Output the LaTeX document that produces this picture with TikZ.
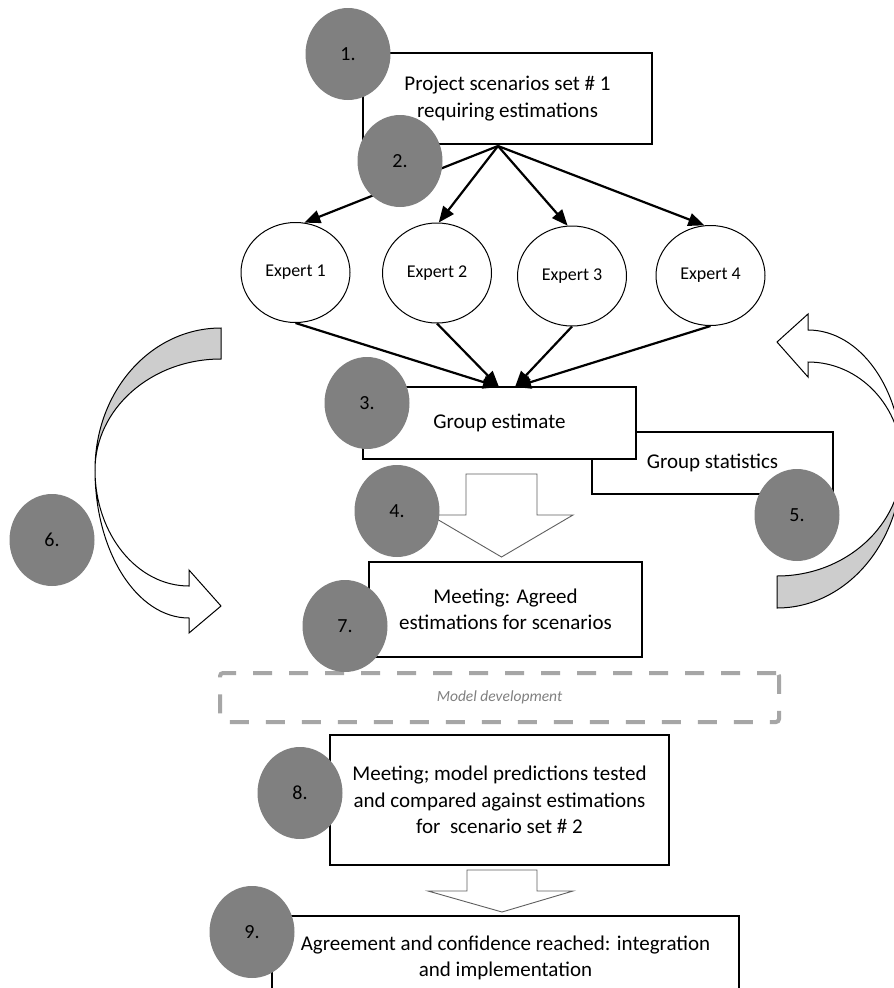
\documentclass[tikz,border=0pt]{standalone}
\usepackage{fontspec}
\setmainfont{Carlito}
\usetikzlibrary{shapes.geometric,arrows.meta}
\definecolor{numgray}{RGB}{128,128,128}
\definecolor{bandgray}{RGB}{205,205,205}
\definecolor{dashgray}{RGB}{166,166,166}
\definecolor{arrowline}{RGB}{95,95,95}
\tikzset{
 stepbox/.style={draw=black, line width=1.3pt, fill=white, rectangle, inner sep=0pt, align=center, font=\fontsize{21}{26.5}\selectfont},
 expert/.style={draw=black, line width=1pt, fill=white, ellipse, inner sep=0pt, minimum width=109pt, minimum height=100pt, font=\fontsize{18}{22}\selectfont},
 numdot/.style={fill=numgray, ellipse, minimum width=85pt, minimum height=92pt, inner sep=0pt, font=\fontsize{20}{24}\selectfont},
 conn/.style={line width=2.2pt, -{Triangle[length=16pt,width=13pt]}},
 blockarrow/.style={draw=arrowline, line width=0.9pt, fill=white},
 curvebody/.style={draw=black, line width=1pt, line join=miter},
}
\begin{document}
\begin{tikzpicture}[x=1pt,y=-1pt]
\useasboundingbox (0,0) rectangle (894,988);
\fill[white] (0,0) rectangle (894,988);
\clip (0,0) rectangle (894,988);

% curved arrows (6 and 5)
\filldraw[curvebody, fill=bandgray] (221,328) .. controls (151,328) and (95,391) .. (95,470) .. controls (95,409) and (151,359) .. (221,359) -- cycle;
\filldraw[curvebody, fill=white] (95,470) .. controls (95,552) and (137,618) .. (189,618) -- (189,633) -- (221,606) -- (189,570) -- (189,586) .. controls (137,586) and (95,534) .. (95,470) -- cycle;

\filldraw[curvebody, fill=bandgray] (902,462) .. controls (902,543) and (846,608) .. (777,608) -- (777,576) .. controls (846,576) and (902,525) .. (902,462) -- cycle;
\filldraw[curvebody, fill=white] (902,462) .. controls (902,389) and (860,330) .. (808,330) -- (808,314) -- (777,342) -- (808,377) -- (808,362) .. controls (860,362) and (902,407) .. (902,462) -- cycle;

% boxes
\node[stepbox, minimum width=289pt, minimum height=91pt] (b1) at (507.5,98.5) {\raisebox{-1.5pt}{\parbox{289pt}{\centering Project scenarios set \# 1\\requiring estimations}}};
\coordinate (fan) at (498,146);

\node[expert] (e1) at (295.5,272.5) {Expert 1};
\node[expert] (e2) at (437,273) {Expert 2};
\node[expert] (e3) at (572,276) {Expert 3};
\node[expert] (e4) at (710.5,275.5) {Expert 4};

\draw[conn] (fan) -- (e1.80);
\draw[conn] (fan) -- (e2.88);
\draw[conn] (fan) -- (e3.95);
\draw[conn] (fan) -- (e4.97);

\node[stepbox, minimum width=241pt, minimum height=62pt] (gs) at (712.5,463) {Group statistics};
\node[stepbox, minimum width=273pt, minimum height=72pt] (b3) at (499.5,423) {Group estimate};
\coordinate (gl) at (499,387);
\coordinate (gr) at (515,387);
\draw[conn] (e1.south) -- (gl);
\draw[conn] (e2.south) -- (gl);
\draw[conn] (e3.south) -- (gr);
\draw[conn] (e4.south) -- (gr);

% block arrow 4
\filldraw[blockarrow] (466,474) -- (537,474) -- (537,515) -- (573,515) -- (501.5,557) -- (430,515) -- (466,515) -- cycle;

\node[stepbox, minimum width=273pt, minimum height=95pt] (b7) at (505.5,609.5) {Meeting: Agreed\\estimations for scenarios};

\node[draw=dashgray, line width=4pt, dash pattern=on 19pt off 17pt, rounded corners=3pt, minimum width=559pt, minimum height=49pt, inner sep=0pt, font=\itshape\fontsize{15.5}{18}\selectfont, text=numgray] (model) at (499.5,697.5) {Model development};

\node[stepbox, minimum width=339pt, minimum height=130pt] (b8) at (499.5,800) {Meeting; model predictions tested\\and compared against estimations\\for\ \ scenario set \# 2};

% block arrow 8 -> 9
\filldraw[blockarrow] (467,870) -- (537,870) -- (537,891) -- (573,891) -- (502,912) -- (428,891) -- (467,891) -- cycle;

\node[stepbox, minimum width=467pt, minimum height=84pt] (b9) at (505.5,958) {Agreement and confidence reached: integration\\and implementation};

% numbered dots
\node[numdot] (n1) at (348,54) {1.};
\node[numdot] (n2) at (400,161) {2.};
\node[numdot] (n3) at (367,403) {3.};
\node[numdot] (n4) at (397,511) {4.};
\node[numdot] (n5) at (797,515) {5.};
\node[numdot] (n6) at (52,540) {6.};
\node[numdot] (n7) at (345,626) {7.};
\node[numdot] (n8) at (300,793) {8.};
\node[numdot] (n9) at (252,932) {9.};
\end{tikzpicture}
\end{document}
